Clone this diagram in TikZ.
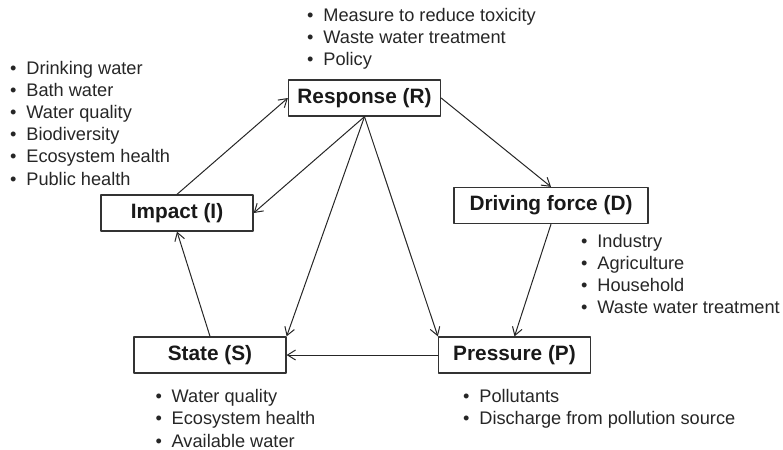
\documentclass[tikz,border=0pt]{standalone}
\usepackage{fontspec}
\setmainfont{Liberation Sans}
\usetikzlibrary{arrows.meta}
\newcommand{\blt}{\textbullet\hspace{4.9pt}}
\tikzset{
  box/.style={draw=black!80, line width=0.65pt, minimum width=76pt, minimum height=18pt,
    inner sep=2pt, font=\fontsize{10.4}{12}\selectfont\bfseries, text=black!90},
  items/.style={anchor=base west, inner sep=0pt, align=left, text=black!85,
    font=\fontsize{9.1}{11.1}\selectfont},
  link/.style={->, line width=0.5pt, draw=black!85}
}
\begin{document}
\begin{tikzpicture}[x=0.5pt, y=-0.5pt, >={Straight Barb[length=4pt,width=5pt]}, line join=round, line cap=round]
            \useasboundingbox (0,0) rectangle (783,450);
            % Boxes
            \node[box] (R) at (364.5,98) {Response (R)};
            \node[box] (I) at (177,213) {Impact (I)};
            \node[box, minimum width=97pt] (D) at (551,205.5) {Driving force (D)};
            \node[box] (S) at (210,355) {State (S)};
            \node[box] (P) at (514.5,355) {Pressure (P)};
            % Lists (placed at the baseline of their last line)
            \node[items] (Rl) at (306.8,65.4) {\blt Measure to reduce toxicity\\ \blt Waste water treatment\\ \blt Policy};
            \node[items] (Il) at (9.8,185) {\blt Drinking water\\ \blt Bath water\\ \blt Water quality\\ \blt Biodiversity\\ \blt Ecosystem health\\ \blt Public health};
            \node[items] (Dl) at (580.8,313.9) {\blt Industry\\ \blt Agriculture\\ \blt Household\\ \blt Waste water treatment};
            \node[items] (Sl) at (155.1,447) {\blt Water quality\\ \blt Ecosystem health\\ \blt Available water};
            \node[items] (Pl) at (462.8,424.8) {\blt Pollutants\\ \blt Discharge from pollution source};
            % Arrows
            \draw[link] (I.north) -- (R.west);
            \draw[link] (R.east) -- (D.north);
            \draw[link] (D.south) -- (P.north);
            \draw[link] (P.west) -- (S.east);
            \draw[link] (S.north) -- (I.south);
            \draw[link] (R.south) -- (I.east);
            \draw[link] (R.south) -- (S.north east);
            \draw[link] (R.south) -- (P.north west);
\end{tikzpicture}
\end{document}
